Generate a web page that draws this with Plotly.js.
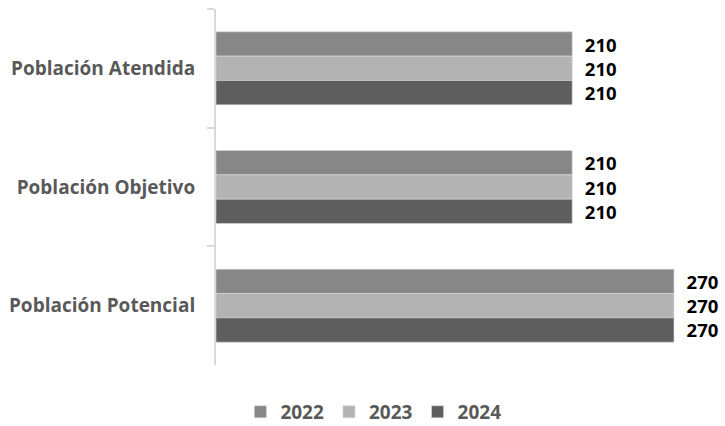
<!DOCTYPE html>
<html><head><meta charset="utf-8">
<script src="https://cdn.plot.ly/plotly-3.0.1.min.js"></script>
<style>body{margin:0;background:#fff}#c{width:725px;height:426px}</style>
</head><body><div id="c"></div>
<script>
const categories = ["Población Atendida", "Población Objetivo", "Población Potencial"];
const seriesNames = ["2022", "2023", "2024"];
const values2022 = [210, 210, 270];
const values2023 = [210, 210, 270];
const values2024 = [210, 210, 270];
const colors = ["#878787", "#b3b3b3", "#5e5e5e"];
const allValues = [values2022, values2023, values2024];

const traces = seriesNames.map((n, i) => ({
  type: "bar", orientation: "h", name: n,
  y: categories, x: allValues[i],
  marker: {color: colors[i], line: {color: "#d6d6d6", width: 0.6}},
  text: allValues[i].map(v => "\u00a0\u00a0" + v), textposition: "outside",
  constraintext: "none",
  textfont: {family: "Open Sans, sans-serif", size: 18.5, color: "#000", weight: "bold"},
  cliponaxis: false, hoverinfo: "skip"
}));

const layout = {
  width: 725, height: 426,
  margin: {l: 216, r: 30, t: 9, b: 61},
  paper_bgcolor: "#fff", plot_bgcolor: "#fff",
  barmode: "group", bargap: 0.385, bargroupgap: 0,
  xaxis: {range: [0, 282.4], visible: false, fixedrange: true},
  yaxis: {autorange: "reversed", showline: true, linecolor: "#d9d9d9", linewidth: 2,
    ticks: "outside", tickson: "boundaries", ticklen: 7, tickcolor: "#d9d9d9", tickwidth: 2,
    showgrid: false, zeroline: false, ticklabelstandoff: 15,
    tickfont: {family: "Open Sans, sans-serif", size: 19, color: "#595959", weight: "bold"}},
  showlegend: true,
  legend: {orientation: "h", xref: "container", yref: "container", x: 0.515, xanchor: "center",
    y: 0.033, yanchor: "middle", traceorder: "normal",
    font: {family: "Open Sans, sans-serif", size: 19, color: "#595959", weight: "bold"},
    itemwidth: 30}
};
Plotly.newPlot("c", traces, layout, {displayModeBar: false, staticPlot: true});
</script></body></html>
